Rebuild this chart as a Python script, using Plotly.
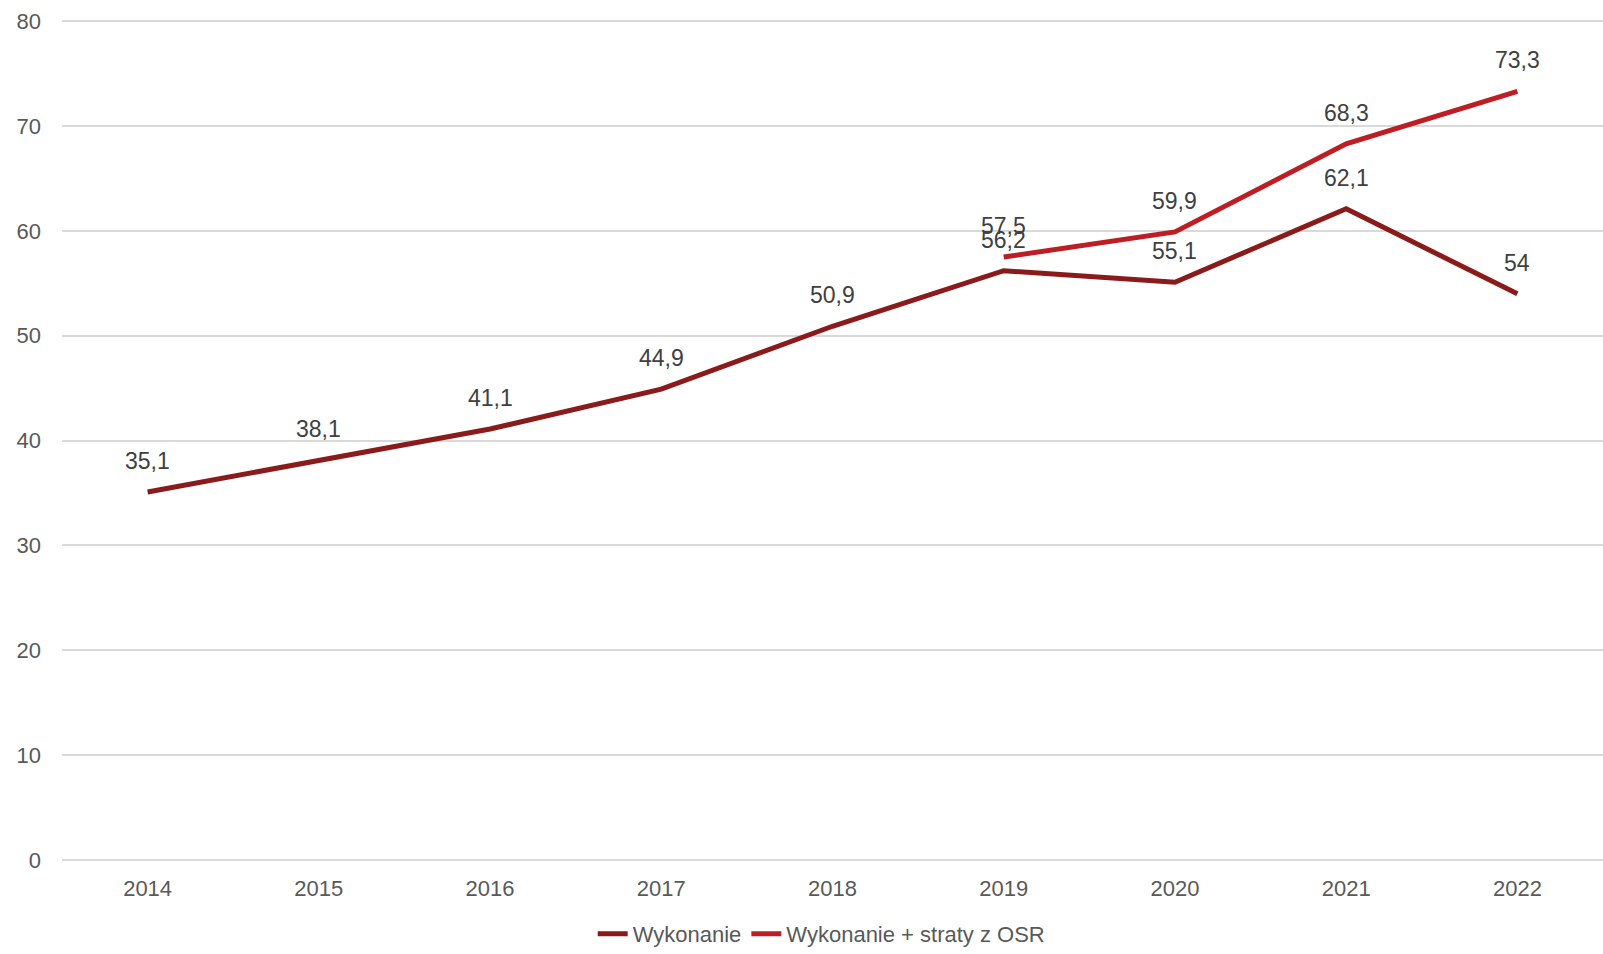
import plotly.graph_objects as go

years = ["2014", "2015", "2016", "2017", "2018", "2019", "2020", "2021", "2022"]
wykonanie = [35.1, 38.1, 41.1, 44.9, 50.9, 56.2, 55.1, 62.1, 54]
wykonanie_osr = [None, None, None, None, None, 57.5, 59.9, 68.3, 73.3]
names = ["Wykonanie", "Wykonanie + straty z OSR"]
colors = ["#8B1A1A", "#BE1E23"]

def fmt(v):
    return ("%g" % v).replace(".", ",")

fig = go.Figure()
for name, vals, col in zip(names, [wykonanie, wykonanie_osr], colors):
    fig.add_trace(go.Scatter(x=years, y=vals, name=name, mode="lines",
                             line=dict(color=col, width=5), connectgaps=False))

annotations = []
for vals in [wykonanie, wykonanie_osr]:
    for i, v in enumerate(vals):
        if v is None:
            continue
        annotations.append(dict(x=i, y=v, xref="x", yref="y", text=fmt(v),
                                showarrow=False, yshift=31,
                                font=dict(family="Liberation Sans, Arial", size=23, color="#404040")))

fig.update_layout(
    width=1603, height=954,
    margin=dict(l=62, r=0, t=19, b=94, autoexpand=False),
    paper_bgcolor="white", plot_bgcolor="white",
    font=dict(family="Liberation Sans, Arial", size=22, color="#595959"),
    annotations=annotations,
    showlegend=True,
    legend=dict(orientation="h", x=0.493, xanchor="center", y=-0.088, yanchor="middle",
                font=dict(size=22, color="#595959"), itemwidth=30, tracegroupgap=0),
)
fig.update_xaxes(type="category", range=[-0.5, 8.5], showgrid=False, zeroline=False,
                 showline=False, ticks="", ticklabelstandoff=13,
                 tickfont=dict(size=22, color="#595959"))
fig.update_yaxes(range=[0, 80.2], dtick=10, showgrid=True, gridcolor="#D9D9D9", gridwidth=1.5,
                 zeroline=True, zerolinecolor="#D9D9D9", zerolinewidth=1.5,
                 showline=False, ticks="", ticklabelstandoff=20,
                 tickfont=dict(size=22, color="#595959"))

fig.write_html("out.html", config={"displayModeBar": False},
               post_script="document.body.style.margin='0';document.body.style.overflow='hidden';")
